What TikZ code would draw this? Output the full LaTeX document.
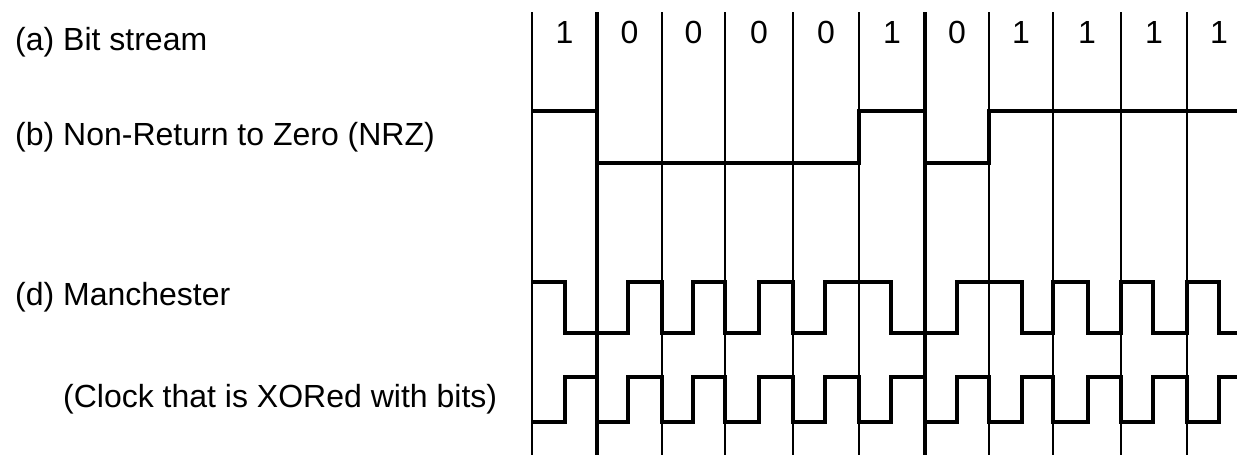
\documentclass[tikz,border=0pt]{standalone}
\usepackage{fontspec}
\setmainfont{Liberation Sans}
\begin{document}
\begin{tikzpicture}[x=1pt,y=-1pt,
  lbl/.style={anchor=base west,inner sep=0pt,font=\fontsize{32}{37}\selectfont},
  bitlbl/.style={anchor=base,inner sep=0pt,font=\fontsize{32}{37}\selectfont},
  grid/.style={line width=2pt,black},
  gridthick/.style={line width=3.4pt,black},
  wave/.style={line width=3.2pt,black,line join=miter}]
\useasboundingbox (0,0) rectangle (1237,455);
% labels
\node[lbl] (la) at (15,50) {(a) Bit stream};
\node[lbl] (lb) at (15,145) {(b) Non-Return to Zero (NRZ)};
\node[lbl] (ld) at (15,305) {(d) Manchester};
\node[lbl] (lc) at (63,407) {(Clock that is XORed with bits)};
% grid
\foreach \x in {532,662,725,793,859,989,1053,1121,1187}
  \draw[grid] (\x,12) -- (\x,455);
\foreach \x in {597,925}
  \draw[gridthick] (\x,12) -- (\x,455);
% bit labels
\foreach \x/\b [count=\i] in {564.5/1,629.5/0,693.5/0,759/0,826/0,892/1,957/0,1021/1,1087/1,1154/1,1219/1}
  \node[bitlbl] (b\i) at (\x,43) {\b};
% NRZ
\draw[wave] (532,111)--(597,111)--(597,163)--(859,163)--(859,111)--(925,111)--(925,163)--(989,163)--(989,111)--(1237,111);
% Manchester
\draw[wave] (532,282)--(565,282)--(565,333)--(597,333)--(628,333)--(628,282)--(662,282)
  --(662,333)--(693,333)--(693,282)--(725,282)
  --(725,333)--(759,333)--(759,282)--(793,282)
  --(793,333)--(825,333)--(825,282)--(859,282)
  --(891,282)--(891,333)--(925,333)
  --(957,333)--(957,282)--(989,282)
  --(1022,282)--(1022,333)--(1053,333)
  --(1053,282)--(1088,282)--(1088,333)--(1121,333)
  --(1121,282)--(1153,282)--(1153,333)--(1187,333)
  --(1187,282)--(1219,282)--(1219,333)--(1237,333);
% Clock
\draw[wave] (532,422)--(565,422)--(565,377)--(597,377)--(597,422)--(628,422)--(628,377)--(662,377)--(662,422)--(693,422)--(693,377)--(725,377)--(725,422)--(759,422)--(759,377)--(793,377)--(793,422)--(825,422)--(825,377)--(859,377)--(859,422)--(891,422)--(891,377)--(925,377)--(925,422)--(957,422)--(957,377)--(989,377)--(989,422)--(1022,422)--(1022,377)--(1053,377)--(1053,422)--(1088,422)--(1088,377)--(1121,377)--(1121,422)--(1153,422)--(1153,377)--(1187,377)--(1187,422)--(1219,422)--(1219,377)--(1237,377);
\end{tikzpicture}
\end{document}
